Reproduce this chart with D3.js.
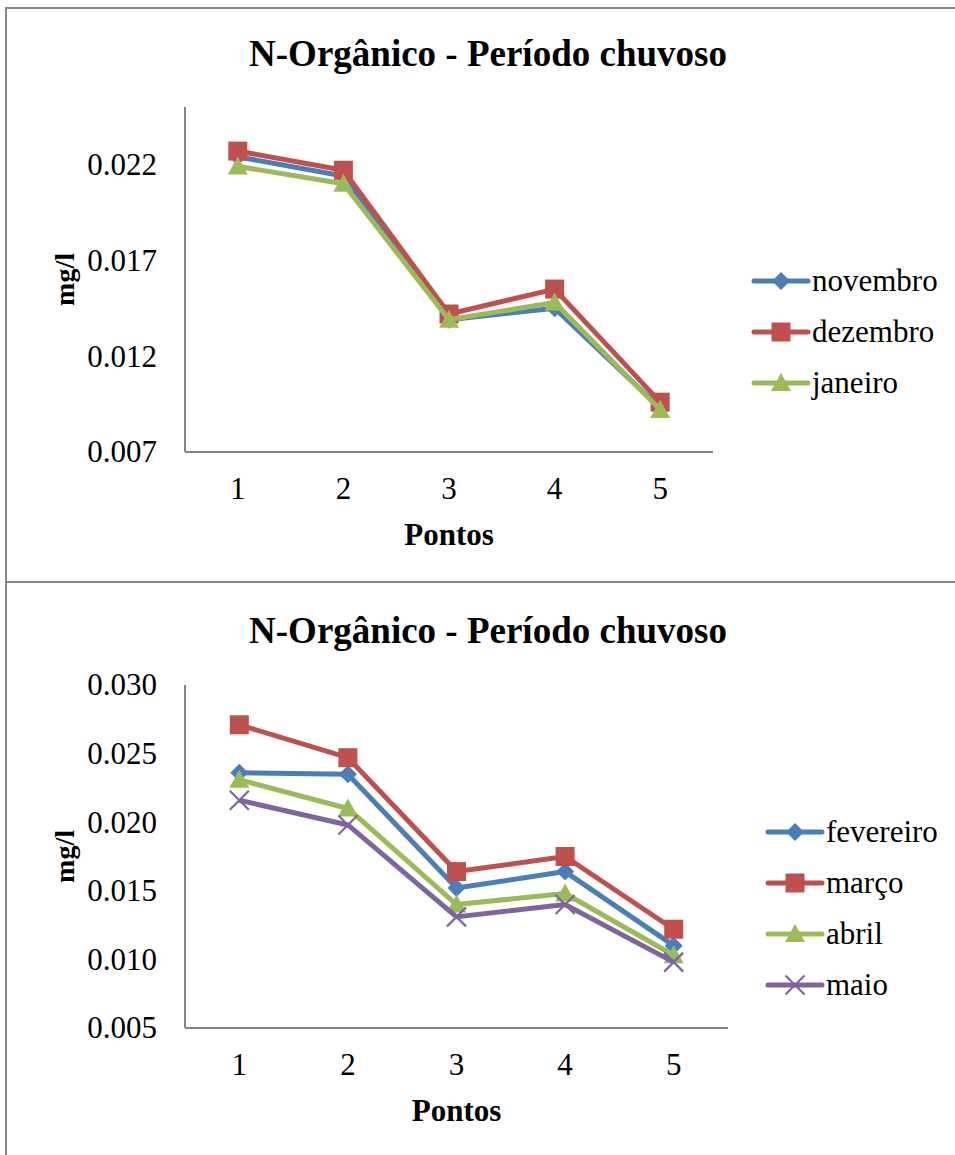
<!DOCTYPE html>
<html>
<head>
<meta charset="utf-8">
<script src="https://cdn.jsdelivr.net/npm/d3@7"></script>
<style>
  html, body { margin: 0; padding: 0; background: #ffffff; }
  svg { display: block; }
  svg text { font-family: "Liberation Serif", Tinos, "Times New Roman", Times, "DejaVu Serif", serif; }
</style>
</head>
<body>
<svg id="chart" width="955" height="1155"></svg>
<script>
// Sampling points along the river
const pontos = ["1", "2", "3", "4", "5"];

// Organic nitrogen (mg/l), first part of the rainy season
const novembro = [0.0224, 0.0214, 0.0139, 0.0145, 0.0093];
const dezembro = [0.0227, 0.0217, 0.0142, 0.0155, 0.0096];
const janeiro  = [0.0219, 0.0210, 0.0139, 0.0148, 0.0092];

// Organic nitrogen (mg/l), second part of the rainy season
const fevereiro = [0.0236, 0.0235, 0.0152, 0.0164, 0.0110];
const marco     = [0.0271, 0.0247, 0.0164, 0.0175, 0.0122];
const abril     = [0.0231, 0.0210, 0.0140, 0.0148, 0.0103];
const maio      = [0.0216, 0.0198, 0.0131, 0.0140, 0.0098];

// Y-axis tick labels
const ticksTop    = [0.007, 0.012, 0.017, 0.022];
const ticksBottom = [0.005, 0.010, 0.015, 0.020, 0.025, 0.030];

const titulo = "N-Orgânico - Período chuvoso";

const COLORS = { blue: "#4a7ebb", red: "#c0504d", green: "#9bbb59", purple: "#8064a2" };
const AXIS_GRAY = "#868686";

const svg = d3.select("#chart");

// Outer frames of the two panels
svg.append("path")
  .attr("d", "M955,8 H6 V1155 M6,582 H955")
  .attr("fill", "none")
  .attr("stroke", AXIS_GRAY)
  .attr("stroke-width", 2);

// Marker shapes
const markers = {
  diamond: (g, s) => g.append("path")
      .attr("d", `M0,${-s} L${s},0 L0,${s} L${-s},0 Z`),
  square: (g, s) => g.append("rect")
      .attr("x", -s).attr("y", -s).attr("width", 2 * s).attr("height", 2 * s),
  triangle: (g, s) => g.append("path")
      .attr("d", `M0,${-s * 1.05} L${s * 1.05},${s * 0.85} L${-s * 1.05},${s * 0.85} Z`),
  cross: (g, s) => g.append("path")
      .attr("d", `M${-s},${-s} L${s},${s} M${-s},${s} L${s},${-s}`)
      .attr("fill", "none")
      .attr("stroke-width", 2.2)
};

const markerSize = { diamond: 9, square: 9.5, triangle: 9.5, cross: 9.5 };

function drawMarker(g, shape, color) {
  const m = markers[shape](g, markerSize[shape]);
  if (shape === "cross") m.attr("stroke", color);
  else m.attr("fill", color);
  return m;
}

function panel(cfg) {
  const g = svg.append("g");

  const x = d3.scaleBand().domain(pontos).range([cfg.left, cfg.right]).padding(0);
  const y = d3.scaleLinear().domain(cfg.domain).range([cfg.bottom, cfg.top]);
  const cx = d => x(d) + x.bandwidth() / 2;

  // Title
  g.append("text")
    .attr("x", cfg.titleX).attr("y", cfg.titleY)
    .attr("text-anchor", "middle")
    .attr("font-weight", "bold")
    .attr("font-size", 37)
    .text(titulo);

  // Y axis
  const yAxis = d3.axisLeft(y).tickValues(cfg.ticks).tickFormat(d3.format(".3f"))
    .tickSize(0).tickPadding(28);
  const ya = g.append("g").attr("transform", `translate(${cfg.left},0)`).call(yAxis);
  ya.attr("font-family", null);
  ya.select(".domain").attr("d", `M0,${cfg.top} V${cfg.bottom}`)
    .attr("stroke", AXIS_GRAY).attr("stroke-width", 2);
  ya.selectAll("text").attr("font-size", 31).attr("fill", "#000");

  // X axis
  const xAxis = d3.axisBottom(x).tickSize(0).tickPadding(25);
  const xa = g.append("g").attr("transform", `translate(0,${cfg.bottom})`).call(xAxis);
  xa.attr("font-family", null);
  xa.select(".domain").attr("d", `M${cfg.left},0 H${cfg.right}`)
    .attr("stroke", AXIS_GRAY).attr("stroke-width", 2);
  xa.selectAll("text").attr("font-size", 31).attr("fill", "#000");

  // Axis titles
  g.append("text")
    .attr("x", (cfg.left + cfg.right) / 2).attr("y", cfg.bottom + 93)
    .attr("text-anchor", "middle")
    .attr("font-weight", "bold").attr("font-size", 31)
    .text("Pontos");
  g.append("text")
    .attr("transform", `translate(74,${(cfg.top + cfg.bottom) / 2}) rotate(-90)`)
    .attr("text-anchor", "middle")
    .attr("font-weight", "bold").attr("font-size", 28)
    .text("mg/l");

  // Series lines and markers
  const line = d3.line().x((d, i) => cx(pontos[i])).y(d => y(d));
  cfg.series.forEach(s => {
    g.append("path")
      .datum(s.values)
      .attr("d", line)
      .attr("fill", "none")
      .attr("stroke", s.color)
      .attr("stroke-width", 5)
      .attr("stroke-linejoin", "round");
    s.values.forEach((v, i) => {
      const mg = g.append("g").attr("transform", `translate(${cx(pontos[i])},${y(v)})`);
      drawMarker(mg, s.shape, s.color);
    });
  });

  // Legend
  const lg = g.append("g");
  cfg.series.forEach((s, i) => {
    const yy = cfg.legendY + i * cfg.legendStep;
    const row = lg.append("g").attr("transform", `translate(${cfg.legendX},${yy})`);
    row.append("line")
      .attr("x1", 0).attr("x2", 54).attr("y1", 0).attr("y2", 0)
      .attr("stroke", s.color).attr("stroke-width", 5).attr("stroke-linecap", "round");
    drawMarker(row.append("g").attr("transform", "translate(27,0)"), s.shape, s.color);
    row.append("text")
      .attr("x", 58).attr("y", 10)
      .attr("font-size", 31)
      .text(s.name);
  });
}

panel({
  left: 185, right: 713, top: 107, bottom: 452,
  domain: [0.007, 0.025], ticks: ticksTop,
  titleX: 488, titleY: 66,
  legendX: 754, legendY: 281, legendStep: 51,
  series: [
    { name: "novembro", values: novembro, color: COLORS.blue,  shape: "diamond" },
    { name: "dezembro", values: dezembro, color: COLORS.red,   shape: "square" },
    { name: "janeiro",  values: janeiro,  color: COLORS.green, shape: "triangle" }
  ]
});

panel({
  left: 185, right: 728, top: 685, bottom: 1028,
  domain: [0.005, 0.030], ticks: ticksBottom,
  titleX: 488, titleY: 643,
  legendX: 768, legendY: 832, legendStep: 51,
  series: [
    { name: "fevereiro", values: fevereiro, color: COLORS.blue,   shape: "diamond" },
    { name: "março",     values: marco,     color: COLORS.red,    shape: "square" },
    { name: "abril",     values: abril,     color: COLORS.green,  shape: "triangle" },
    { name: "maio",      values: maio,      color: COLORS.purple, shape: "cross" }
  ]
});
</script>
</body>
</html>
